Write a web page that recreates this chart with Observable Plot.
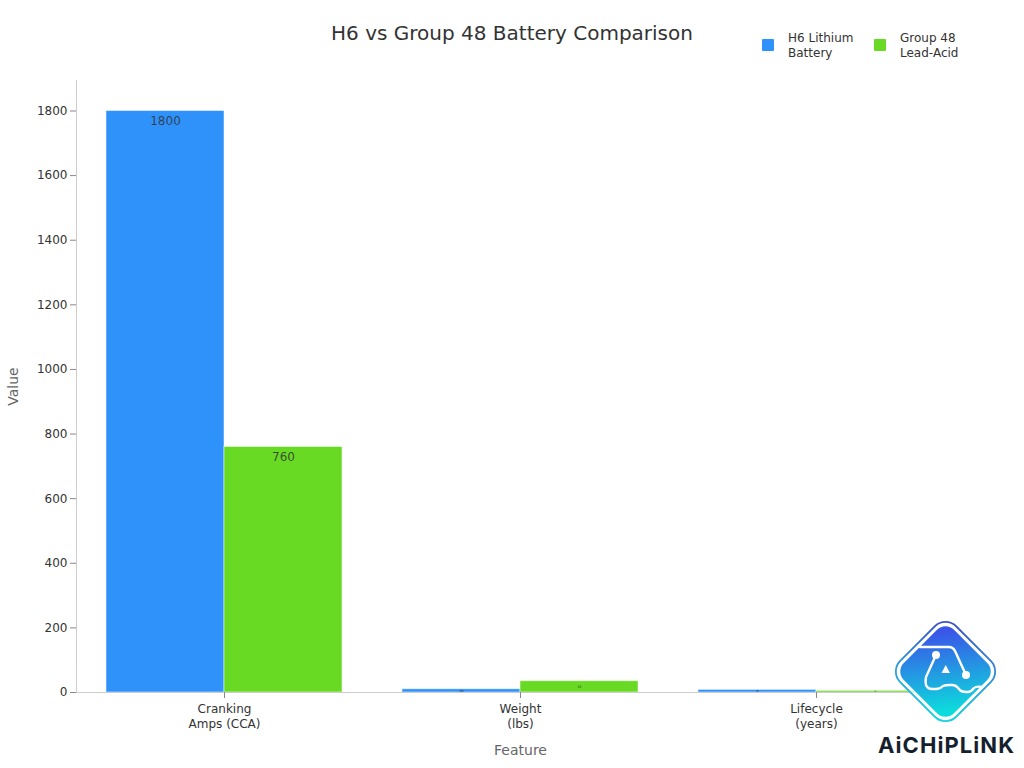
<!DOCTYPE html>
<html>
<head>
<meta charset="utf-8">
<script src="https://cdn.jsdelivr.net/npm/d3@7"></script>
<script src="https://cdn.jsdelivr.net/npm/@observablehq/plot@0.6"></script>
<style>
html,body{margin:0;padding:0;background:#fff;overflow:hidden;width:1024px;height:768px;font-family:"DejaVu Sans",sans-serif;}
#page{position:relative;width:1024px;height:768px;}
#head{position:relative;height:70px;}
#title{position:absolute;left:0;width:1024px;top:21px;text-align:center;font-size:20px;line-height:24px;color:#333;}
.sw{position:absolute;top:39px;width:12px;height:12px;border-radius:1px;}
.lg{position:absolute;top:31px;font-size:12px;line-height:15px;color:#333;white-space:pre;}
#chart svg{display:block;}
#logo{position:absolute;left:0;top:0;pointer-events:none;}
</style>
</head>
<body>
<div id="page">
  <div id="head">
    <div id="title">H6 vs Group 48 Battery Comparison</div>
    <div class="sw" style="left:762px;background:#2e92fa"></div>
    <div class="lg" style="left:788px">H6 Lithium
Battery</div>
    <div class="sw" style="left:874px;background:#68da24"></div>
    <div class="lg" style="left:900px">Group 48
Lead-Acid</div>
  </div>
  <div id="chart"></div>
  <svg id="logo" width="1024" height="768" viewBox="0 0 1024 768">
    <defs>
      <linearGradient id="lg1" gradientUnits="userSpaceOnUse" x1="915" y1="645" x2="978" y2="695">
        <stop offset="0" stop-color="#3a55e8"/><stop offset="1" stop-color="#0cdcdc"/>
      </linearGradient>
      <linearGradient id="lg2" gradientUnits="userSpaceOnUse" x1="915" y1="630" x2="975" y2="715">
        <stop offset="0" stop-color="#3f4fc8"/><stop offset="1" stop-color="#19d8e2"/>
      </linearGradient>
    </defs>
    <g transform="rotate(45 945.5 671.5)">
      <rect x="906" y="632" width="79" height="79" rx="15" fill="#fff" fill-opacity="0.7" stroke="url(#lg2)" stroke-width="1.8"/>
      <rect x="910" y="636" width="71" height="71" rx="12" fill="url(#lg1)"/>
    </g>
    <g fill="none" stroke="#fff" stroke-width="2.4" stroke-linecap="round" stroke-linejoin="round">
      <path d="M920 647H949Q953 647 955 651L966 675"/>
      <path d="M936 655L926 677Q924 689 932 689H936Q940 689 943 686Q945 685 950 685H952Q956 685 959 689Q961 692 966 692H968Q971 692 974 688Q976 686 982 687"/>
    </g>
    <circle cx="936" cy="655" r="4" fill="#fff"/>
    <circle cx="966" cy="675" r="4" fill="#fff"/>
    <path d="M945.7 665L950 673H941.5Z" fill="#fff"/>
    <text x="878" y="753" font-family="Inter" font-weight="700" font-size="22" fill="#151f2e" textLength="136" lengthAdjust="spacing">AiCHiPLiNK</text>
  </svg>
</div>
<script>
const features = ["Cranking\nAmps (CCA)", "Weight\n(lbs)", "Lifecycle\n(years)"];
const seriesNames = ["H6 Lithium Battery", "Group 48 Lead-Acid"];
const h6Values = [1800, 10, 8];
const group48Values = [760, 35, 5];
const seriesColors = ["#2e92fa", "#68da24"];
const yTicks = [0, 200, 400, 600, 800, 1000, 1200, 1400, 1600, 1800];

const rows = features.flatMap((feature, i) => [
  {feature, series: seriesNames[0], value: h6Values[i]},
  {feature, series: seriesNames[1], value: group48Values[i]}
]);
const big = rows.filter(d => d.value >= 100);
const small = rows.filter(d => d.value < 100);

const chart = Plot.plot({
  width: 1024,
  height: 698,
  marginTop: 10,
  marginBottom: 76,
  marginLeft: 76,
  marginRight: 60,
  style: {fontFamily: "'DejaVu Sans', sans-serif", fontSize: "12px", color: "#333", background: "#fff"},
  fx: {domain: features, padding: 0, label: null, axis: null},
  x: {domain: seriesNames, paddingInner: 0, paddingOuter: 0.25, axis: null},
  y: {domain: [0, 1894.4], label: null, axis: null},
  color: {domain: seriesNames, range: seriesColors},
  marks: [
    Plot.barY(rows, {fx: "feature", x: "series", y: "value", fill: "series", inset: 0, stroke: "#fff", strokeWidth: 1, strokeOpacity: 0.5}),
    Plot.text(big, {fx: "feature", x: "series", y: "value", text: d => String(d.value), dy: 10.5, fontSize: 12, fill: "#333", fillOpacity: 0.85}),
    Plot.text(small, {fx: "feature", x: "series", y: d => d.value / 2, text: d => String(d.value), fontSize: 3, fill: "#222"}),
    Plot.frame({anchor: "left", facet: "super", stroke: "#ccc"}),
    Plot.frame({anchor: "bottom", facet: "super", stroke: "#ccc"}),
    Plot.axisY(yTicks, {tickSize: 6, tickPadding: 3, stroke: "#888", fill: "#333", fontSize: 12, label: null, tickFormat: d3.format("d")}),
    Plot.axisFx({anchor: "bottom", tickSize: 6, tickPadding: 4, stroke: "#888", fill: "#333", fontSize: 12, label: null, lineHeight: 1.25}),
    Plot.text(["Value"], {frameAnchor: "left", dx: -63, rotate: -90, textAnchor: "middle", fontSize: 14, fill: "#666", facet: "super"}),
    Plot.text(["Feature"], {frameAnchor: "bottom", dy: 62, fontSize: 14, fill: "#666", facet: "super"})
  ]
});
document.getElementById("chart").appendChild(chart);
</script>
</body>
</html>
